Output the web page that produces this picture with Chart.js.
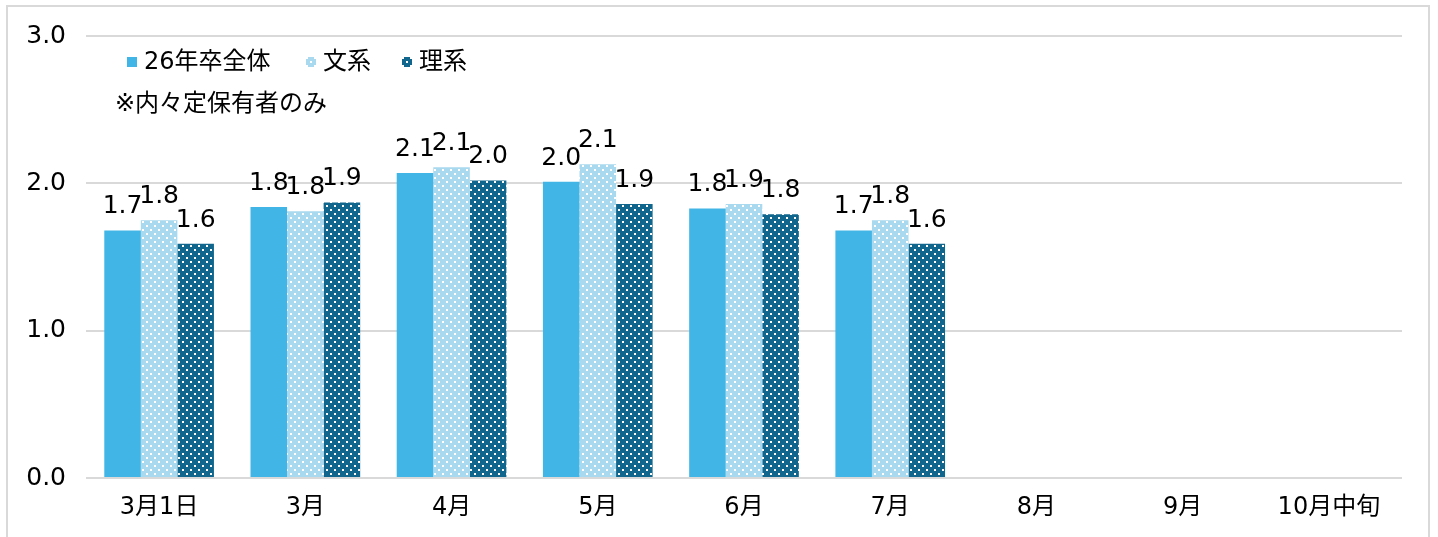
<!DOCTYPE html>
<html lang="ja">
<head>
<meta charset="utf-8">
<title>内々定保有社数の推移</title>
<script src="https://cdn.jsdelivr.net/npm/chart.js@4/dist/chart.umd.min.js"></script>
<style>
  html, body { margin: 0; padding: 0; background: #fff; }
  #wrap { position: relative; width: 1438px; height: 537px; overflow: hidden; }
  #frame { position: absolute; left: 6px; top: 5px; width: 1420px; height: 560px;
           border: 2px solid #d9d9d9; pointer-events: none; }
  canvas { position: absolute; left: 0; top: 0; }
</style>
</head>
<body>
<div id="wrap">
  <canvas id="chart" width="1438" height="537"></canvas>
  <div id="frame"></div>
</div>
<script>
// データ
const categories = ['3月1日', '3月', '4月', '5月', '6月', '7月', '8月', '9月', '10月中旬'];
const seriesLabels = ['26年卒全体', '文系', '理系'];
const zentai = [1.68, 1.84, 2.07, 2.01, 1.83, 1.68, null, null, null];
const bunkei = [1.75, 1.81, 2.11, 2.13, 1.86, 1.75, null, null, null];
const rikei  = [1.59, 1.87, 2.02, 1.86, 1.79, 1.59, null, null, null];
const yTicks = [0, 1, 2, 3];
const noteText = '※内々定保有者のみ';

const FONT = '"DejaVu Sans", "Noto Sans CJK JP", sans-serif';

// 白い水玉模様のパターン
function dotPattern(color) {
    const c = document.createElement('canvas');
    c.width = 8; c.height = 8;
    const g = c.getContext('2d');
    g.fillStyle = color;
    g.fillRect(0, 0, 8, 8);
    g.fillStyle = '#ffffff';
    g.fillRect(2, 1, 2, 2);
    g.fillRect(6, 5, 2, 2);
    return document.createElement('canvas').getContext('2d').createPattern(c, 'repeat');
}

const colZentai = '#41b6e6';
const colBunkei = '#a9d9ee';
const colRikei = '#10668d';

// 値ラベル
const valueLabels = {
    id: 'valueLabels',
    afterDatasetsDraw(chart) {
        const ctx = chart.ctx;
        ctx.save();
        ctx.font = '25px ' + FONT;
        ctx.fillStyle = '#000';
        ctx.textAlign = 'center';
        ctx.textBaseline = 'alphabetic';
        chart.data.datasets.forEach((ds, i) => {
            chart.getDatasetMeta(i).data.forEach((bar, j) => {
                const v = ds.data[j];
                if (v == null) return;
                ctx.fillText(v.toFixed(1), bar.x, bar.y - 17);
            });
        });
        ctx.restore();
    }
};

// 凡例と注記（グラフ内左上）
const innerLegend = {
    id: 'innerLegend',
    afterDraw(chart) {
        const ctx = chart.ctx;
        ctx.save();
        ctx.font = '24px ' + FONT;
        ctx.textBaseline = 'middle';
        const xs = [127, 306, 402];
        chart.data.datasets.forEach((ds, i) => {
            ctx.fillStyle = ds.backgroundColor;
            ctx.fillRect(xs[i], 57, 10, 10);
            ctx.fillStyle = '#000';
            ctx.fillText(ds.label, xs[i] + 17, 63);
        });
        ctx.fillText(noteText, 115, 105);
        ctx.restore();
    }
};

new Chart(document.getElementById('chart'), {
    type: 'bar',
    data: {
        labels: categories,
        datasets: [
            { label: seriesLabels[0], data: zentai, backgroundColor: colZentai },
            { label: seriesLabels[1], data: bunkei, backgroundColor: dotPattern(colBunkei) },
            { label: seriesLabels[2], data: rikei, backgroundColor: dotPattern(colRikei) }
        ]
    },
    options: {
        responsive: false,
        animation: false,
        devicePixelRatio: 1,
        layout: { padding: { left: 0, right: 36, top: 36, bottom: 0 } },
        datasets: { bar: { categoryPercentage: 0.75, barPercentage: 1.0 } },
        plugins: {
            legend: { display: false },
            title: { display: false },
            tooltip: { enabled: false }
        },
        scales: {
            x: {
                grid: { display: false },
                border: { display: false },
                ticks: { color: '#000', font: { size: 24, family: FONT }, padding: 7, maxRotation: 0 },
                afterFit(scale) { scale.height = 59; }
            },
            y: {
                min: 0,
                max: 3,
                afterBuildTicks(scale) { scale.ticks = yTicks.map(v => ({ value: v })); },
                grid: { color: '#d9d9d9', lineWidth: 2, drawTicks: false },
                border: { display: false },
                ticks: {
                    color: '#000',
                    font: { size: 25, family: FONT },
                    padding: 20,
                    callback: v => v.toFixed(1)
                },
                afterFit(scale) { scale.width = 86; }
            }
        }
    },
    plugins: [valueLabels, innerLegend]
});
</script>
</body>
</html>
